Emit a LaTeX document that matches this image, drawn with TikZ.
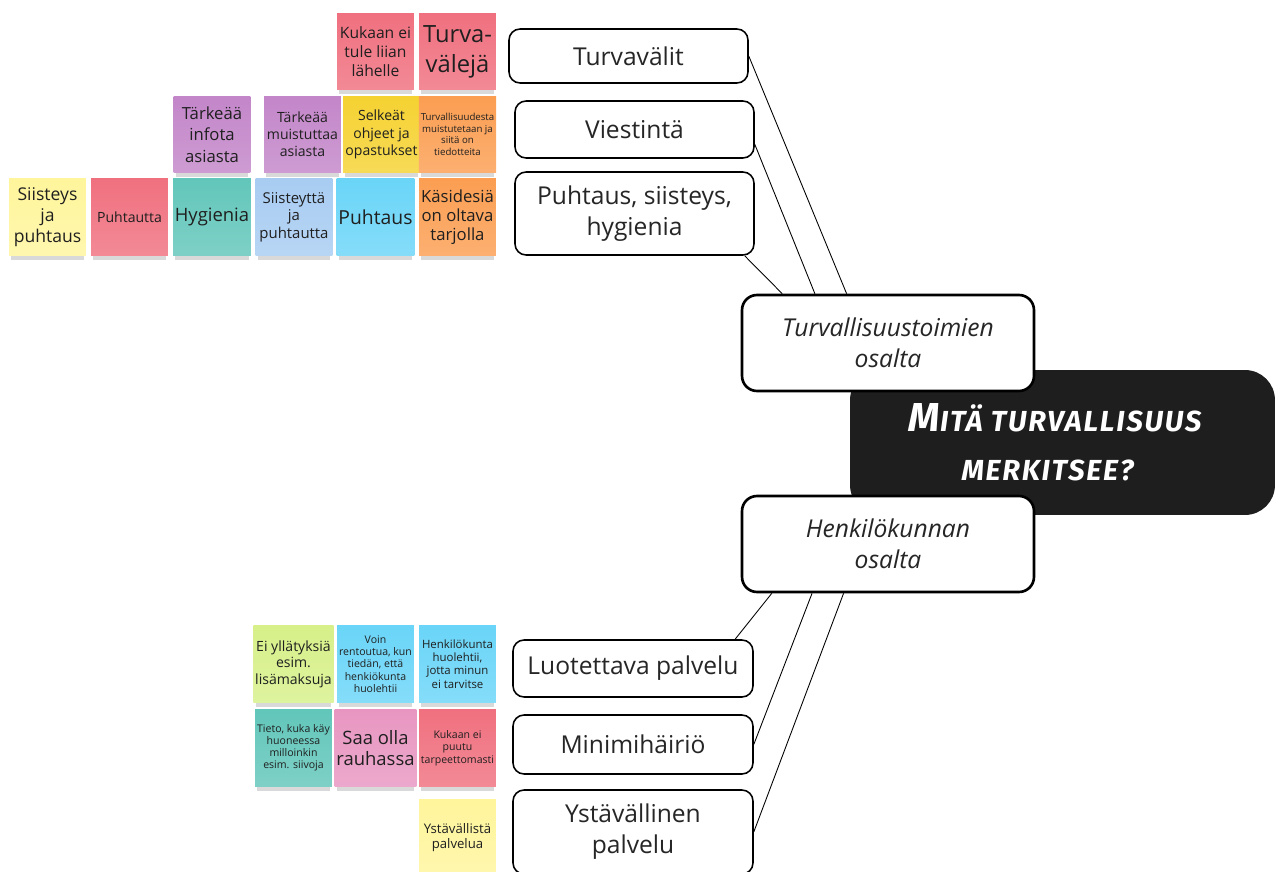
\documentclass[tikz,border=0pt]{standalone}
\usepackage{fontspec}
\setmainfont{Open Sans}
\newfontfamily\titlefont[LetterSpace=6]{Fira Sans}
\usetikzlibrary{shadows}

\definecolor{stickyred}{HTML}{F0707F}
\definecolor{stickypurple}{HTML}{C386C9}
\definecolor{stickyyellow}{HTML}{F5D232}
\definecolor{stickyorange}{HTML}{FB9E52}
\definecolor{stickylight}{HTML}{FFF59C}
\definecolor{stickyteal}{HTML}{62C6BA}
\definecolor{stickyblue}{HTML}{A8CCF2}
\definecolor{stickycyan}{HTML}{6AD5F8}
\definecolor{stickylime}{HTML}{D7F089}
\definecolor{stickypink}{HTML}{E896C1}
\definecolor{titleblack}{HTML}{1E1E1E}

\begin{document}
\begin{tikzpicture}
[x=0.02cm,y=-0.02cm,
  notedecorate/.style={shape=rectangle,minimum width=1.54cm,minimum height=1.54cm,
    inner sep=1pt,align=center,text=black!88,
    top color=#1,bottom color=#1!82!white,
    drop shadow={shadow xshift=0pt,shadow yshift=-4pt,shadow scale=0.94,opacity=0.3}},%
  boxdecorate/.style={shape=rectangle,draw,line width=0.9pt,rounded corners=0.22cm,
    fill=white,align=center,text=black!85,font=\fontsize{14}{17.6}\selectfont},%
  branchdecorate/.style={boxdecorate,line width=1.5pt,rounded corners=0.3cm,
    minimum width=5.84cm,minimum height=1.92cm,font=\itshape\fontsize{14}{17.6}\selectfont},%
  linedecorate/.style={-,line width=0.5pt}]
\useasboundingbox (0,0) rectangle (1276,872);
%% sticky notes
\foreach \name/\x/\y/\col/\fs/\bs/\txt in {
  kukaan/375.5/51.5/stickyred/8.9/10.8/{Kukaan ei\\tule liian\\lähelle},
  turva/457.5/51.5/stickyred/13.5/17/{Turva-\\välejä},
  infota/212/134.5/stickypurple/9.5/12.3/{Tärkeää\\infota\\asiasta},
  muistuttaa/302.5/134.5/stickypurple/8/9.6/{Tärkeää\\muistuttaa\\asiasta},
  selkeat/381.5/134.5/stickyyellow/8/9.8/{Selkeät\\ohjeet ja\\opastukset},
  tiedote/457.5/134.5/stickyorange/5.5/6.5/{Turvallisuudesta\\muistutetaan ja\\siitä on\\tiedotteita},
  siisteys/47.5/217/stickylight/10/12/{Siisteys\\ja\\puhtaus},
  puhtautta/129.5/217/stickyred/8/9.6/{Puhtautta},
  hygienia/212/217/stickyteal/10.5/12.6/{Hygienia},
  siisteytta/294/217/stickyblue/8.5/9.9/{Siisteyttä\\ja\\puhtautta},
  puhtaus/375.5/217/stickycyan/11/13/{Puhtaus},
  kasidesia/457.5/217/stickyorange/9.5/10.8/{Käsidesiä\\on oltava\\tarjolla},
  yllatys/293.5/664/stickylime/8/9.4/{Ei yllätyksiä\\esim.\\lisämaksuja},
  rentoutua/375.5/664/stickycyan/6/7/{Voin\\rentoutua, kun\\tiedän, että\\henkiökunta\\huolehtii},
  huolehtii/457.5/664/stickycyan/6.5/7.5/{Henkilökunta\\huolehtii,\\jotta minun\\ei tarvitse},
  tieto/293.5/748/stickyteal/6/6.8/{Tieto, kuka käy\\huoneessa\\milloinkin\\esim. siivoja},
  rauha/375.5/748/stickypink/10.5/12/{Saa olla\\rauhassa},
  puutu/457.5/748/stickyred/6/7.1/{Kukaan ei\\puutu\\tarpeettomasti},
  ystavallista/457.5/837.5/stickylight/7.5/8.5/{Ystävällistä\\palvelua}} {
  \node (\name) at (\x,\y) [notedecorate=\col,font=\fontsize{\fs}{\bs}\selectfont] {\txt};
}
%% central title
\node (title) at (1062.5,442.5) [shape=rectangle,fill=titleblack,rounded corners=0.6cm,
  minimum width=8.5cm,minimum height=2.9cm,align=center,text=white,
  font=\titlefont\bfseries\itshape\fontsize{16.5}{28}\selectfont]
  {{\fontsize{23}{28}\selectfont M}ITÄ TURVALLISUUS\hspace*{0.3cm}\\MERKITSEE?\hspace*{0.6cm}};
%% main branches
\node (toimien) at (888,343) [branchdecorate] {Turvallisuustoimien\\osalta};
\node (henkilo) at (888,544) [branchdecorate] {Henkilökunnan\\osalta};
%% topics
\node (turvavalit) at (628.5,56) [boxdecorate,minimum width=4.78cm,minimum height=1.08cm] {Turvavälit};
\node (viestinta) at (634.5,129.5) [boxdecorate,minimum width=4.78cm,minimum height=1.14cm] {Viestintä};
\node (siisteysbox) at (634.5,213.5) [boxdecorate,minimum width=4.78cm,minimum height=1.66cm] {Puhtaus, siisteys,\\hygienia};
\node (luotettava) at (633,668.5) [boxdecorate,minimum width=4.8cm,minimum height=1.14cm] {Luotettava palvelu};
\node (minimi) at (633,744.5) [boxdecorate,minimum width=4.8cm,minimum height=1.18cm] {Minimihäiriö};
\node (ystavallinen) at (633,832) [boxdecorate,minimum width=4.8cm,minimum height=1.68cm] {Ystävällinen\\palvelu};
%% edges
\path
\foreach \startnode/\endnode in {turvavalit.east/toimien.130, viestinta.-7/toimien.146,
  siisteysbox.-21/toimien.155, henkilo.203/luotettava.16, henkilo.213/minimi.east,
  henkilo.228/ystavallinen.east} {
  (\startnode) edge[linedecorate] (\endnode)
};
\end{tikzpicture}
\end{document}
